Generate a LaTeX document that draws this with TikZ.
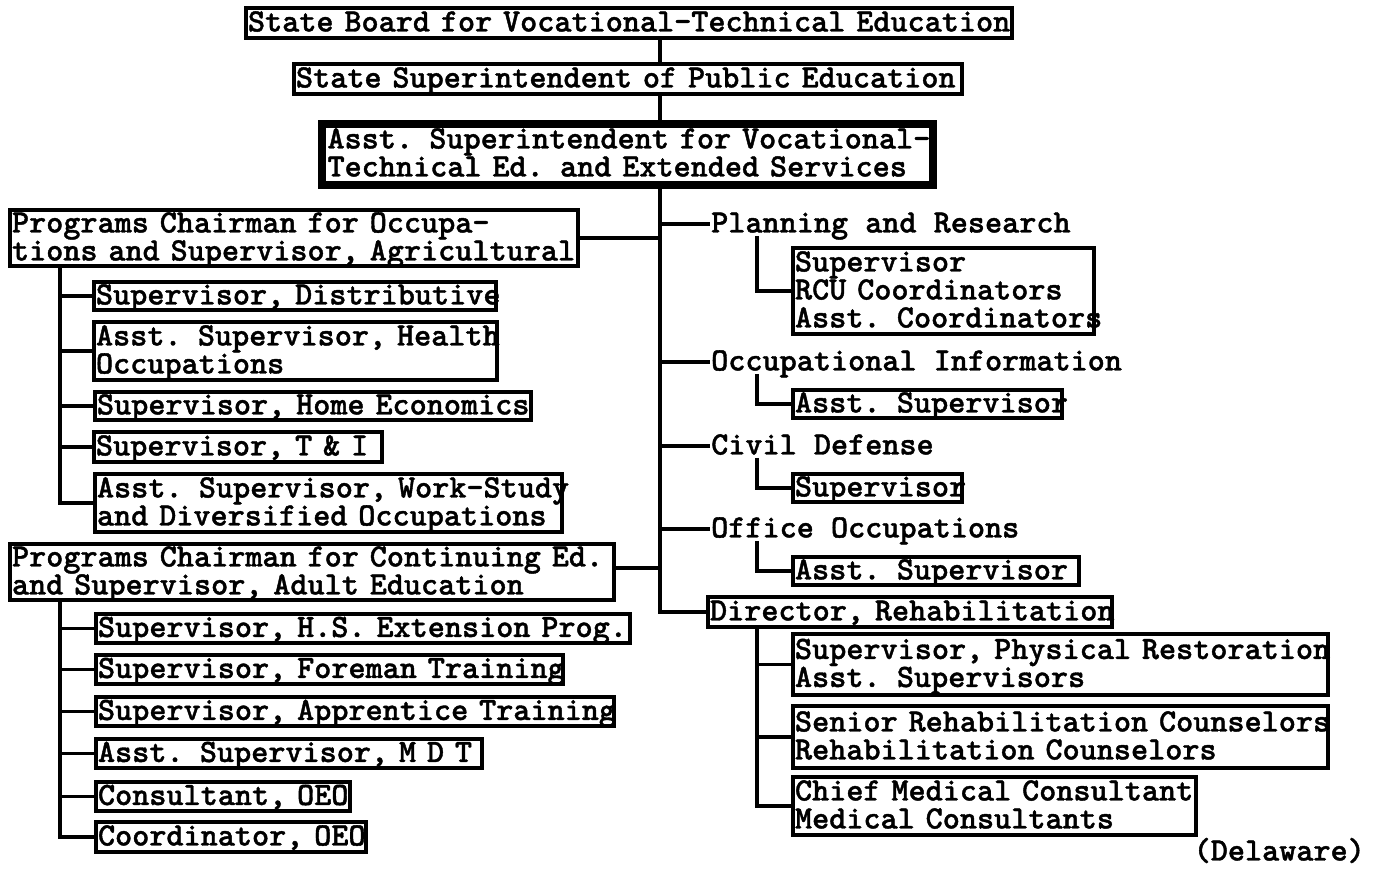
\documentclass[tikz,border=0pt]{standalone}
\usepackage{fontspec}
\newfontfamily\twf{lmmonolt10-bold}[Extension=.otf, FakeBold=1.2]
\newcommand\tw{\fontsize{32.6}{28}\selectfont\twf}
\newcommand\lne[1]{\raisebox{0pt}[0.62em][0.1em]{#1}}
\tikzset{
  box/.style={draw, line width=3.2pt, inner xsep=2pt, inner ysep=0pt, align=left, font=\tw},
  bigbox/.style={box, line width=8pt, inner xsep=6pt},
  lbl/.style={inner xsep=1pt, inner ysep=0pt, anchor=west, font=\tw},
  conn/.style={line width=3.2pt},
}
\begin{document}
\begin{tikzpicture}[x=1pt,y=-1pt]
\useasboundingbox[fill=white] (0,0) rectangle (1389,870);
% top chain
\node[box, minimum width=766pt, minimum height=30pt, text width=762pt] (board) at (629,23) {\lne{State Board for Vocational-Technical Education}};
\node[box, minimum width=668pt, minimum height=30pt, text width=664pt] (supt) at (628,79) {\lne{State Superintendent of Public Education}};
\node[bigbox, minimum width=611pt, minimum height=61pt, text width=599pt] (asst) at (627,154) {\lne{Asst. Superintendent for Vocational-}\\\lne{Technical Ed. and Extended Services}};
% left group 1
\node[box, minimum width=568pt, minimum height=56pt, text width=564pt] (occ) at (294,238) {\lne{Programs Chairman for Occupa-}\\\lne{tions and Supervisor, Agricultural}};
\node[box, minimum width=402pt, minimum height=28pt, text width=398pt] (dist) at (295,296) {\lne{Supervisor, Distributive}};
\node[box, minimum width=403pt, minimum height=58pt, text width=399pt] (health) at (295.5,351) {\lne{Asst. Supervisor, Health}\\\lne{Occupations}};
\node[box, minimum width=436pt, minimum height=28pt, text width=432pt] (home) at (313,406) {\lne{Supervisor, Home Economics}};
\node[box, minimum width=288pt, minimum height=30pt, text width=284pt] (ti) at (238,447) {\lne{Supervisor, T \& I}};
\node[box, minimum width=467pt, minimum height=58pt, text width=463pt] (work) at (328.5,503) {\lne{Asst. Supervisor, Work-Study}\\\lne{and Diversified Occupations}};
% left group 2
\node[box, minimum width=604pt, minimum height=56pt, text width=600pt] (cont) at (312,572) {\lne{Programs Chairman for Continuing Ed.}\\\lne{and Supervisor, Adult Education}};
\node[box, minimum width=534pt, minimum height=29pt, text width=530pt] (hs) at (363,628.5) {\lne{Supervisor, H.S. Extension Prog.}};
\node[box, minimum width=467pt, minimum height=29pt, text width=463pt] (fore) at (329.5,669.5) {\lne{Supervisor, Foreman Training}};
\node[box, minimum width=518pt, minimum height=29pt, text width=514pt] (appr) at (355,711.5) {\lne{Supervisor, Apprentice Training}};
\node[box, minimum width=386pt, minimum height=29pt, text width=382pt] (mdt) at (289,753.5) {\lne{Asst. Supervisor, M D T}};
\node[box, minimum width=254pt, minimum height=29pt, text width=250pt] (cons) at (223,796.5) {\lne{Consultant, OEO}};
\node[box, minimum width=270pt, minimum height=30pt, text width=266pt] (coord) at (231,837) {\lne{Coordinator, OEO}};
% right side
\node[lbl] (plan) at (710,224) {\lne{Planning and Research}};
\node[box, minimum width=301pt, minimum height=86pt, text width=297pt] (plansub) at (943.5,291) {\lne{Supervisor}\\\lne{RCU Coordinators}\\\lne{Asst. Coordinators}};
\node[lbl] (occinfo) at (710,362) {\lne{Occupational Information}};
\node[box, minimum width=269pt, minimum height=28pt, text width=265pt] (occinfosub) at (927.5,404) {\lne{Asst. Supervisor}};
\node[lbl] (civil) at (710,446) {\lne{Civil Defense}};
\node[box, minimum width=169pt, minimum height=28pt, text width=165pt] (civilsub) at (877.5,488) {\lne{Supervisor}};
\node[lbl] (office) at (710,529) {\lne{Office Occupations}};
\node[box, minimum width=286pt, minimum height=28pt, text width=282pt] (officesub) at (936,571) {\lne{Asst. Supervisor}};
\node[box, minimum width=404pt, minimum height=30pt, text width=400pt] (dir) at (910,612) {\lne{Director, Rehabilitation}};
\node[box, minimum width=535pt, minimum height=61pt, text width=531pt] (phys) at (1060.5,664.5) {\lne{Supervisor, Physical Restoration}\\\lne{Asst. Supervisors}};
\node[box, minimum width=535pt, minimum height=62pt, text width=531pt] (senior) at (1060.5,737) {\lne{Senior Rehabilitation Counselors}\\\lne{Rehabilitation Counselors}};
\node[box, minimum width=403pt, minimum height=58pt, text width=399pt] (medical) at (994.5,806) {\lne{Chief Medical Consultant}\\\lne{Medical Consultants}};
\node[lbl, anchor=east] (del) at (1366,852) {\lne{(Delaware)}};
% guide coordinates
\coordinate (tx) at (660,0);
\coordinate (lx) at (60,0);
\coordinate (sx) at (757,0);
% trunk
\draw[conn] (board.south -| tx) -- (supt.north -| tx);
\draw[conn] (supt.south -| tx) -- (asst.north -| tx);
\draw[conn] (asst.south -| tx) |- (dir.west);
\draw[conn] (occ.east) -- (occ.east -| tx);
\draw[conn] ([yshift=4pt]cont.east) -- ([yshift=4pt]cont.east -| tx);
\foreach \n in {plan, occinfo, civil, office} \draw[conn] (tx |- \n.west) -- (\n.west);
% left subtrees
\draw[conn] (occ.south -| lx) |- (work.west);
\foreach \n in {dist, health, home, ti} \draw[conn] (lx |- \n.west) -- (\n.west);
\draw[conn] (cont.south -| lx) |- (coord.west);
\foreach \n in {hs, fore, appr, mdt, cons} \draw[conn] (lx |- \n.west) -- (\n.west);
% right subtrees
\draw[conn] (sx |- plan.south) |- (plansub.west);
\draw[conn] (sx |- occinfo.south) |- (occinfosub.west);
\draw[conn] (sx |- civil.south) |- (civilsub.west);
\draw[conn] (sx |- office.south) |- (officesub.west);
\draw[conn] (sx |- dir.south) |- (medical.west);
\foreach \n in {phys, senior} \draw[conn] (sx |- \n.west) -- (\n.west);
\end{tikzpicture}
\end{document}
